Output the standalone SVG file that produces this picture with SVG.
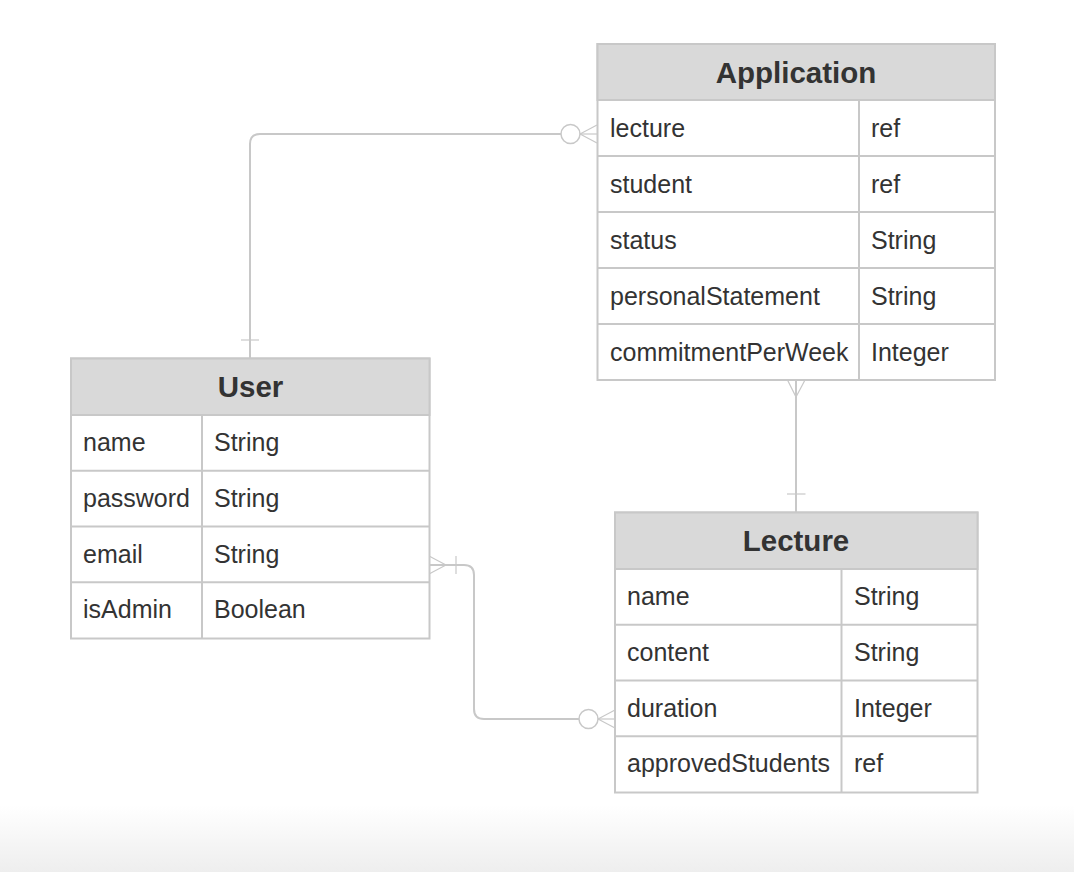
<svg xmlns="http://www.w3.org/2000/svg" width="1074" height="872" viewBox="0 0 1074 872">
<defs>
<linearGradient id="bg" x1="0" y1="0" x2="0" y2="1">
<stop offset="0" stop-color="#ffffff"/>
<stop offset="1" stop-color="#eeeeee"/>
</linearGradient>
</defs>
<style>
.box{fill:#ffffff;stroke:#c8c8c8;stroke-width:2}
.hdr{fill:#d9d9d9;stroke:#c8c8c8;stroke-width:2}
.ln{stroke:#c8c8c8;stroke-width:2;fill:none}
.title{font-family:"Liberation Sans",Arial,sans-serif;font-weight:bold;font-size:29.5px;fill:#333333;text-anchor:middle}
.cell{font-family:"Liberation Sans",Arial,sans-serif;font-size:25px;fill:#333333}
.conn{stroke:#c8c8c8;stroke-width:2;fill:none}
.thin{stroke:#c8c8c8;stroke-width:1.2;fill:none}
.circ{fill:#ffffff;stroke:#c8c8c8;stroke-width:1.5}
</style>
<rect x="0" y="0" width="1074" height="872" fill="#ffffff"/>
<rect x="0" y="805" width="1074" height="67" fill="url(#bg)"/>

<g id="connectors">
<path class="conn" d="M250,358 V144 Q250,134 260,134 H561"/>
<line class="thin" x1="241" y1="340" x2="259" y2="340"/>
<circle class="circ" cx="570.5" cy="134" r="9.5"/>
<line class="thin" x1="580" y1="134" x2="597" y2="125"/>
<line class="thin" x1="580" y1="134" x2="597" y2="143"/>
<line class="thin" x1="580" y1="134" x2="597" y2="134"/>
<line class="conn" x1="796" y1="380" x2="796" y2="512"/>
<line class="thin" x1="787.5" y1="380" x2="796" y2="397"/>
<line class="thin" x1="805" y1="380" x2="796" y2="397"/>
<line class="thin" x1="787" y1="494" x2="805.5" y2="494"/>
<path class="conn" d="M429,565 H464 Q474,565 474,575 V709 Q474,719 484,719 H579"/>
<line class="thin" x1="429" y1="556" x2="446" y2="565"/>
<line class="thin" x1="429" y1="574" x2="446" y2="565"/>
<line class="thin" x1="456" y1="556" x2="456" y2="574"/>
<circle class="circ" cx="588.5" cy="719" r="9.5"/>
<line class="thin" x1="598" y1="719" x2="615" y2="710"/>
<line class="thin" x1="598" y1="719" x2="615" y2="728"/>
<line class="thin" x1="598" y1="719" x2="615" y2="719"/>
</g>

<g id="application">
<rect class="box" x="597.5" y="44" width="397.5" height="336"/>
<rect class="hdr" x="597.5" y="44" width="397.5" height="56"/>
<text class="title" x="796" y="82.5">Application</text>
<line class="ln" x1="597.5" y1="156" x2="995" y2="156"/>
<line class="ln" x1="597.5" y1="212" x2="995" y2="212"/>
<line class="ln" x1="597.5" y1="268" x2="995" y2="268"/>
<line class="ln" x1="597.5" y1="324" x2="995" y2="324"/>
<line class="ln" x1="859" y1="100" x2="859" y2="380"/>
<text class="cell" x="610" y="136.5">lecture</text>
<text class="cell" x="871" y="136.5">ref</text>
<text class="cell" x="610" y="192.5">student</text>
<text class="cell" x="871" y="192.5">ref</text>
<text class="cell" x="610" y="248.5">status</text>
<text class="cell" x="871" y="248.5">String</text>
<text class="cell" x="610" y="304.5">personalStatement</text>
<text class="cell" x="871" y="304.5">String</text>
<text class="cell" x="610" y="360.5">commitmentPerWeek</text>
<text class="cell" x="871" y="360.5">Integer</text>
</g>

<g id="user">
<rect class="box" x="71" y="358.5" width="358.5" height="280"/>
<rect class="hdr" x="71" y="358.5" width="358.5" height="56.5"/>
<text class="title" x="250.5" y="397">User</text>
<line class="ln" x1="71" y1="470.7" x2="429.5" y2="470.7"/>
<line class="ln" x1="71" y1="526.5" x2="429.5" y2="526.5"/>
<line class="ln" x1="71" y1="582.2" x2="429.5" y2="582.2"/>
<line class="ln" x1="202" y1="415" x2="202" y2="638.5"/>
<text class="cell" x="83" y="451">name</text>
<text class="cell" x="214" y="451">String</text>
<text class="cell" x="83" y="507">password</text>
<text class="cell" x="214" y="507">String</text>
<text class="cell" x="83" y="562.5">email</text>
<text class="cell" x="214" y="562.5">String</text>
<text class="cell" x="83" y="618">isAdmin</text>
<text class="cell" x="214" y="618">Boolean</text>
</g>

<g id="lecture">
<rect class="box" x="615" y="512.5" width="362.5" height="280"/>
<rect class="hdr" x="615" y="512.5" width="362.5" height="56.5"/>
<text class="title" x="796" y="551">Lecture</text>
<line class="ln" x1="615" y1="624.7" x2="977.5" y2="624.7"/>
<line class="ln" x1="615" y1="680.5" x2="977.5" y2="680.5"/>
<line class="ln" x1="615" y1="736.2" x2="977.5" y2="736.2"/>
<line class="ln" x1="841.5" y1="569" x2="841.5" y2="792.5"/>
<text class="cell" x="627" y="605">name</text>
<text class="cell" x="854" y="605">String</text>
<text class="cell" x="627" y="660.5">content</text>
<text class="cell" x="854" y="660.5">String</text>
<text class="cell" x="627" y="716.5">duration</text>
<text class="cell" x="854" y="716.5">Integer</text>
<text class="cell" x="627" y="772">approvedStudents</text>
<text class="cell" x="854" y="772">ref</text>
</g>
</svg>
